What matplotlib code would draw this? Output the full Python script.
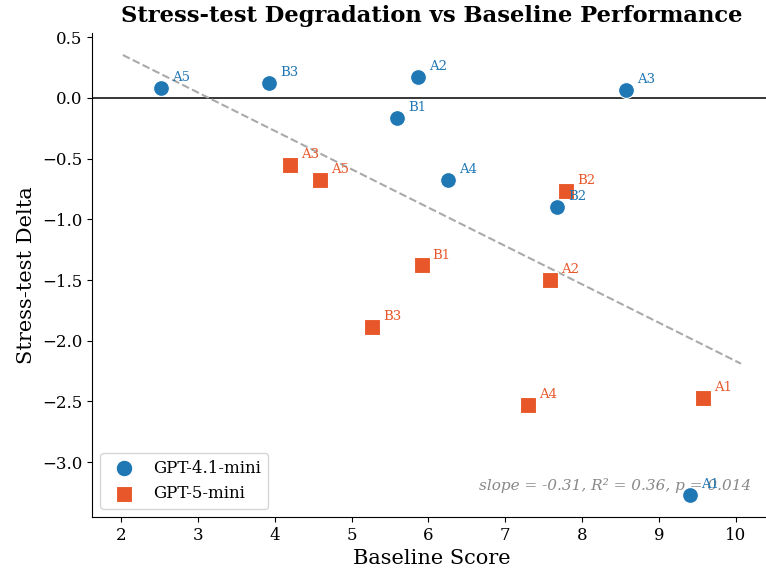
import numpy as np
import matplotlib
matplotlib.use("Agg")
import matplotlib.pyplot as plt

plt.rcParams['font.family'] = ['DejaVu Serif']

labels_41 = ["A5", "B3", "A2", "B1", "A4", "B2", "A3", "A1"]
base_41 = [2.52, 3.92, 5.86, 5.59, 6.25, 7.68, 8.57, 9.40]
delta_41 = [0.08, 0.12, 0.17, -0.165, -0.68, -0.90, 0.066, -3.27]

labels_5 = ["A3", "A5", "B2", "B1", "A2", "B3", "A4", "A1"]
base_5 = [4.20, 4.59, 7.79, 5.91, 7.58, 5.26, 7.29, 9.57]
delta_5 = [-0.55, -0.68, -0.77, -1.38, -1.50, -1.89, -2.53, -2.47]

stats_text = "slope = -0.31, R² = 0.36, p = 0.014"

c_blue = "#1f77b4"
c_orange = "#e8572a"

fig = plt.figure(figsize=(7.66, 5.76), dpi=100)
ax = fig.add_axes([0.120, 0.1024, 0.8877, 0.8403])

ax.axhline(0, color="black", lw=1.1, zorder=1)

ax.scatter(base_41, delta_41, s=130, marker="o", color=c_blue, edgecolor="white",
           linewidth=0.8, label="GPT-4.1-mini", zorder=3)
ax.scatter(base_5, delta_5, s=120, marker="s", color=c_orange, edgecolor="white",
           linewidth=0.8, label="GPT-5-mini", zorder=3)

for lab, x, y in zip(labels_41, base_41, delta_41):
    ax.annotate(lab, (x, y), xytext=(8, 5), textcoords="offset points",
                fontsize=9.5, color=c_blue, zorder=4)
for lab, x, y in zip(labels_5, base_5, delta_5):
    ax.annotate(lab, (x, y), xytext=(8, 5), textcoords="offset points",
                fontsize=9.5, color=c_orange, zorder=4)

xs = np.array(base_41 + base_5)
ys = np.array(delta_41 + delta_5)
slope, intercept = np.polyfit(xs, ys, 1)
xl = np.linspace(xs.min() - 0.5, xs.max() + 0.5, 100)
ax.plot(xl, slope * xl + intercept, ls="--", color="#aaaaaa", lw=1.5, zorder=2)

ax.text(0.97, 0.05, stats_text, transform=ax.transAxes, ha="right", va="bottom",
        fontsize=11, style="italic", color="#888888")

ax.set_title("Stress-test Degradation vs Baseline Performance", fontsize=16.3,
             fontweight="bold", pad=8)
ax.set_xlabel("Baseline Score", fontsize=15)
ax.set_ylabel("Stress-test Delta", fontsize=15)
ax.tick_params(labelsize=12)
ax.spines["top"].set_visible(False)
ax.spines["right"].set_visible(False)
ax.set_xticks(range(2, 11))

ax.legend(loc="lower left", fontsize=12, frameon=True, markerscale=1.05)

fig.savefig("out.png", dpi=100)
